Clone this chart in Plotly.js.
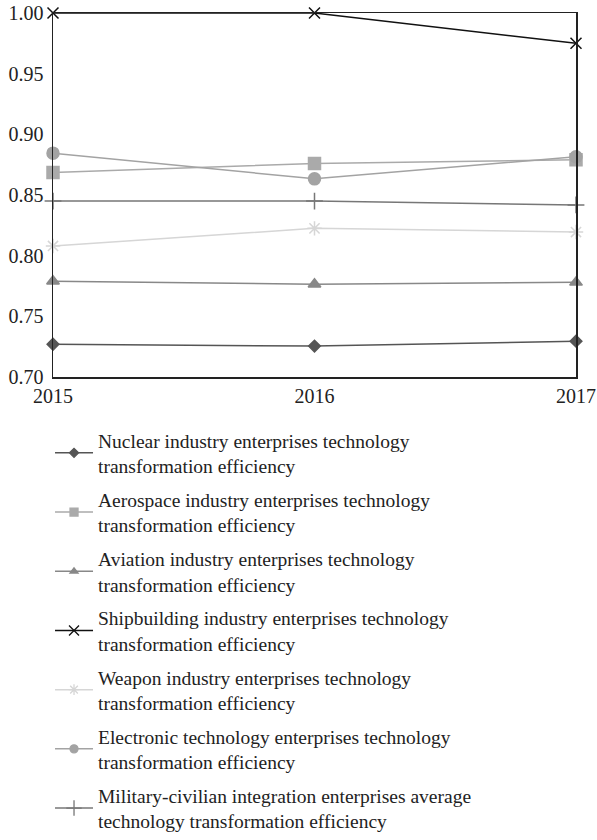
<!DOCTYPE html>
<html><head><meta charset="utf-8">
<script src="https://cdn.plot.ly/plotly-3.0.1.min.js"></script>
<style>html,body{margin:0;padding:0;background:#fff;}</style>
</head><body><div id="chart" style="width:597px;height:840px;"></div>
<script>
const years = [2015, 2016, 2017];
const nuclear = [0.727, 0.7255, 0.7295];
const aerospace = [0.8685, 0.876, 0.879];
const aviation = [0.779, 0.7765, 0.778];
const shipbuilding = [1.0, 1.0, 0.975];
const weapon = [0.808, 0.8225, 0.8195];
const electronic = [0.8845, 0.8633, 0.8815];
const military = [0.845, 0.845, 0.8418];

const names = [
  "Nuclear industry enterprises technology<br>transformation efficiency",
  "Aerospace industry enterprises technology<br>transformation efficiency",
  "Aviation industry enterprises technology<br>transformation efficiency",
  "Shipbuilding industry enterprises technology<br>transformation efficiency",
  "Weapon industry enterprises technology<br>transformation efficiency",
  "Electronic technology enterprises technology<br>transformation efficiency",
  "Military-civilian integration enterprises average<br>technology transformation efficiency"
];
const series = [nuclear, aerospace, aviation, shipbuilding, weapon, electronic, military];
const colors = ["#555555", "#aaaaaa", "#888888", "#111111", "#d6d6d6", "#a3a3a3", "#777777"];
const symbols = ["diamond", "square", "triangle-up", "x-thin-open", "asterisk-open", "circle", "cross-thin-open"];
const sizes = [9, 12, 11, 11, 12, 12, 12];
const legendSizes = [7, 8, 7, 10, 9, 8, 11];

const traces = [];
series.forEach((s, i) => {
  traces.push({
    x: years, y: s, name: names[i], type: "scatter", mode: "lines+markers",
    legendgroup: "g" + i, showlegend: false,
    line: {color: colors[i], width: 1.5},
    marker: {symbol: symbols[i], size: sizes[i], color: colors[i], line: {color: colors[i], width: 1.5}},
    cliponaxis: false
  });
});
series.forEach((s, i) => {
  traces.push({
    x: [null], y: [null], name: names[i], type: "scatter", mode: "lines+markers",
    legendgroup: "g" + i, showlegend: true, hoverinfo: "skip",
    line: {color: colors[i], width: 1.5},
    marker: {symbol: symbols[i], size: legendSizes[i], color: colors[i], line: {color: colors[i], width: 1.3}}
  });
});

const layout = {
  width: 597, height: 840,
  margin: {l: 53, r: 21, t: 13, b: 463},
  paper_bgcolor: "#fff", plot_bgcolor: "#fff",
  font: {family: "Liberation Serif, DejaVu Serif, serif", color: "#222", size: 20},
  showlegend: true,
  xaxis: {range: [2015, 2017], tickvals: years, ticktext: years.map(String),
    showline: true, mirror: true, linecolor: "#222", linewidth: 1.5, showgrid: false,
    zeroline: false, ticks: "", tickfont: {size: 20}},
  yaxis: {range: [0.70, 1.00], dtick: 0.05, tickformat: ".2f",
    showline: true, mirror: true, linecolor: "#222", linewidth: 1.5, showgrid: false,
    zeroline: false, ticks: "", tickfont: {size: 20}, ticklabelstandoff: 4},
  legend: {xref: "paper", yref: "container", x: -0.0057, xanchor: "left", y: 0.4988, yanchor: "top", orientation: "v",
    font: {size: 19.5, family: "Liberation Serif, DejaVu Serif, serif", color: "#222"},
    traceorder: "grouped", tracegroupgap: 5.5, itemwidth: 38, bgcolor: "rgba(0,0,0,0)"}
};
Plotly.newPlot("chart", traces, layout, {displayModeBar: false, staticPlot: true});
</script></body></html>
